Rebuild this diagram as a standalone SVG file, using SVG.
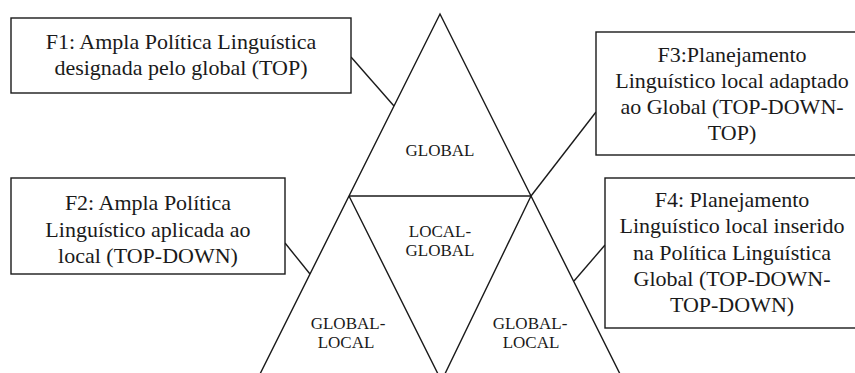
<svg xmlns="http://www.w3.org/2000/svg" width="855" height="373" viewBox="0 0 855 373">
<style>
.ln{fill:none;stroke:#1a1a1a;stroke-width:1.4}
.box{fill:#fff;stroke:#1a1a1a;stroke-width:1.4}
.bt{font-family:"Liberation Serif","Times New Roman",serif;font-size:22px;fill:#1a1a1a;text-anchor:middle}
.tt{font-family:"Liberation Serif","Times New Roman",serif;font-size:17px;fill:#1a1a1a;text-anchor:middle}
</style>
<rect width="855" height="373" fill="#fff"/>
<g id="pyramid">
<polyline class="ln" points="257,380 440,14 623,380"/>
<polyline class="ln" points="349,196 531,196"/>
<polyline class="ln" points="349,196 441.5,381 531,196"/>
<text class="tt" x="440" y="156">GLOBAL</text>
<text class="tt" x="440" y="237">LOCAL-</text>
<text class="tt" x="440" y="256">GLOBAL</text>
<text class="tt" x="348" y="329">GLOBAL-</text>
<text class="tt" x="346" y="348">LOCAL</text>
<text class="tt" x="530" y="329">GLOBAL-</text>
<text class="tt" x="531" y="348">LOCAL</text>
</g>
<g id="connectors">
<line class="ln" x1="351" y1="57" x2="394" y2="106"/>
<line class="ln" x1="285" y1="243" x2="310" y2="274"/>
<line class="ln" x1="531" y1="196" x2="596" y2="112"/>
<line class="ln" x1="574" y1="281" x2="605" y2="245"/>
</g>
<g id="F1">
<rect class="box" x="11" y="18" width="340" height="75"/>
<text class="bt" x="181" y="49">F1: Ampla Política Linguística</text>
<text class="bt" x="181" y="75">designada pelo global (TOP)</text>
</g>
<g id="F2">
<rect class="box" x="11" y="178" width="274" height="96"/>
<text class="bt" x="148" y="210">F2: Ampla Política</text>
<text class="bt" x="148" y="237">Linguístico aplicada ao</text>
<text class="bt" x="148" y="263">local (TOP-DOWN)</text>
</g>
<g id="F3">
<rect class="box" x="596" y="32" width="270" height="123"/>
<text class="bt" x="732" y="62">F3:Planejamento</text>
<text class="bt" x="732" y="88">Linguístico local adaptado</text>
<text class="bt" x="732" y="114">ao Global (TOP-DOWN-</text>
<text class="bt" x="732" y="140">TOP)</text>
</g>
<g id="F4">
<rect class="box" x="605" y="178" width="262" height="150"/>
<text class="bt" x="732" y="207">F4: Planejamento</text>
<text class="bt" x="732" y="233">Linguístico local inserido</text>
<text class="bt" x="732" y="260">na Política Linguística</text>
<text class="bt" x="732" y="286">Global (TOP-DOWN-</text>
<text class="bt" x="732" y="312">TOP-DOWN)</text>
</g>
</svg>
